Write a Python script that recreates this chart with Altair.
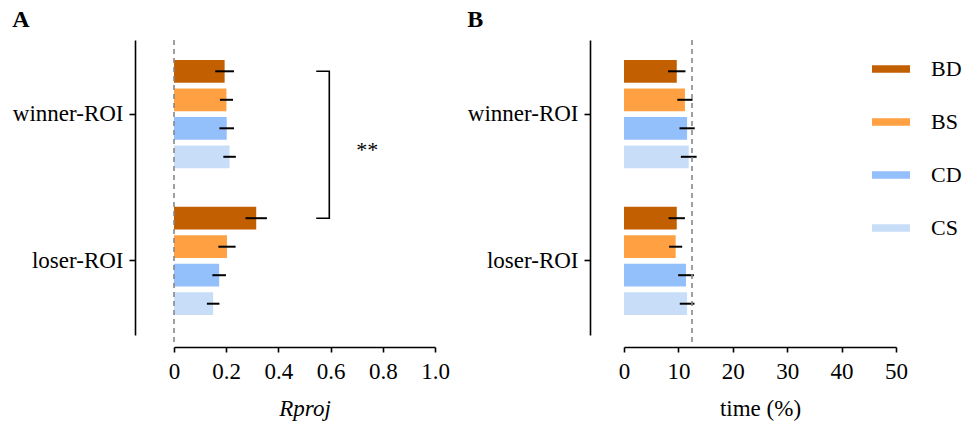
import altair as alt
import pandas as pd

# Categories
groups = ["winner-ROI", "loser-ROI"]
conditions = ["BD", "BS", "CD", "CS"]
colors = ["#C25F00", "#FFA142", "#93BFFA", "#C8DEF8"]

# Panel A: projection ratio (mean and error per condition)
rproj_winner = [0.194, 0.201, 0.202, 0.213]
rproj_winner_err = [0.036, 0.025, 0.028, 0.024]
rproj_loser = [0.315, 0.203, 0.173, 0.150]
rproj_loser_err = [0.041, 0.033, 0.026, 0.024]

# Panel B: time share in percent
time_winner = [9.7, 11.2, 11.6, 11.9]
time_winner_err = [1.6, 1.4, 1.4, 1.45]
time_loser = [9.7, 9.5, 11.4, 11.6]
time_loser_err = [1.5, 1.2, 1.45, 1.35]

# Reference lines and significance bracket
ref_rproj = 0.0
ref_time = 12.5
bracket_x = [0.545, 0.595]
star_x = 0.74

rproj_ticks = [0, 0.2, 0.4, 0.6, 0.8, 1.0]
time_ticks = [0, 10, 20, 30, 40, 50]

FONT = "Liberation Serif"
PLOT_H = 295


def make_frame(winner, winner_err, loser, loser_err):
    rows = []
    for g, means, errs in [(groups[0], winner, winner_err), (groups[1], loser, loser_err)]:
        for c, m, e in zip(conditions, means, errs):
            rows.append({"group": g, "cond": c, "mean": m, "lo": m - e, "hi": m + e})
    return pd.DataFrame(rows)


def x_axis(ticks, title, style, label_expr):
    opts = dict(values=ticks, offset=12, title=title, titleFont=FONT,
                titleFontSize=23, titleFontWeight="normal", titleFontStyle=style,
                titleColor="black", titlePadding=14, labelFont=FONT, labelFontSize=23,
                labelColor="black", tickSize=5, labelPadding=8, domainWidth=1.6,
                tickWidth=1.6, domainColor="black", tickColor="black", grid=False,
                labelFlush=False)
    if label_expr:
        opts["labelExpr"] = label_expr
    return alt.Axis(**opts)


def panel(df, domain, ticks, ref, xtitle, title_style, width, y_offset, letter,
          show_legend, label_expr, extras=None):
    y = alt.Y(
        "group:N",
        sort=groups,
        scale=alt.Scale(domain=groups, paddingInner=0.224, paddingOuter=0.116),
        axis=alt.Axis(title=None, offset=y_offset, labelFont=FONT, labelFontSize=23,
                      labelColor="black", tickSize=6, labelPadding=6, domainWidth=1.6,
                      tickWidth=1.6, domainColor="black", tickColor="black", grid=False),
    )
    yo = alt.YOffset("cond:N", sort=conditions,
                     scale=alt.Scale(domain=conditions, paddingInner=0.2, paddingOuter=0.1))
    x = alt.X("mean:Q", scale=alt.Scale(domain=domain, nice=False, zero=False),
              axis=x_axis(ticks, xtitle, title_style, label_expr))

    if show_legend:
        legend = alt.Legend(title=None, orient="none", legendX=248, legendY=10,
                            symbolType="M-1,-0.2L1,-0.2L1,0.2L-1,0.2Z",
                            symbolSize=1444, symbolStrokeWidth=0, labelFont=FONT,
                            labelFontSize=22, labelColor="black", labelOffset=21,
                            rowPadding=23, padding=0)
    else:
        legend = None
    color = alt.Color("cond:N", sort=conditions,
                      scale=alt.Scale(domain=conditions, range=colors), legend=legend)

    base = alt.Chart(df)
    bars = base.mark_bar().encode(x=x, y=y, yOffset=yo, color=color)
    errs = base.mark_rule(color="black", strokeWidth=2).encode(
        x="lo:Q", x2="hi:Q", y=y, yOffset=yo)
    refline = alt.Chart(pd.DataFrame({"ref": [ref]})).mark_rule(
        color="#888888", strokeDash=[5, 4], strokeWidth=1.6).encode(
        x="ref:Q", y=alt.value(0), y2=alt.value(PLOT_H + 11))
    layers = [bars, errs, refline]
    if extras:
        layers += extras(y, yo)
    return alt.layer(*layers).properties(
        width=width, height=PLOT_H,
        title=alt.TitleParams(letter, anchor="start", frame="bounds", font=FONT,
                              fontSize=24, fontWeight="bold", color="black", offset=7),
    )


def significance(y, yo):
    bracket_df = pd.DataFrame({
        "mean": [bracket_x[0], bracket_x[1], bracket_x[1], bracket_x[0]],
        "group": [groups[0], groups[0], groups[1], groups[1]],
        "cond": [conditions[0]] * 4,
        "order": [0, 1, 2, 3],
    })
    bracket = alt.Chart(bracket_df).mark_line(color="black", strokeWidth=1.6).encode(
        x="mean:Q", y=y, yOffset=yo, order="order:Q")
    star_df = pd.DataFrame({"mean": [star_x], "group": [groups[0]],
                            "cond": [conditions[3]], "label": ["**"]})
    star = alt.Chart(star_df).mark_text(font=FONT, fontSize=22, color="black", dy=-7).encode(
        x="mean:Q", y=y, yOffset=yo, text="label:N")
    return [bracket, star]


df_a = make_frame(rproj_winner, rproj_winner_err, rproj_loser, rproj_loser_err)
df_b = make_frame(time_winner, time_winner_err, time_loser, time_loser_err)

panel_a = panel(df_a, [0, 1], rproj_ticks, ref_rproj, "Rproj", "italic", 261, 39, "A",
                False, "datum.value == 0 ? '0' : format(datum.value, '.1f')", significance)
panel_b = panel(df_b, [0, 50], time_ticks, ref_time, "time (%)", "normal", 272, 34, "B",
                True, None)

chart = alt.hconcat(panel_a, panel_b, spacing=17).resolve_scale(
    color="independent").properties(
    padding={"left": 12, "top": 8, "right": 5, "bottom": 5}
).configure(font=FONT).configure_view(stroke=None)

chart.save("out.html", embed_options={"renderer": "svg", "actions": False})
